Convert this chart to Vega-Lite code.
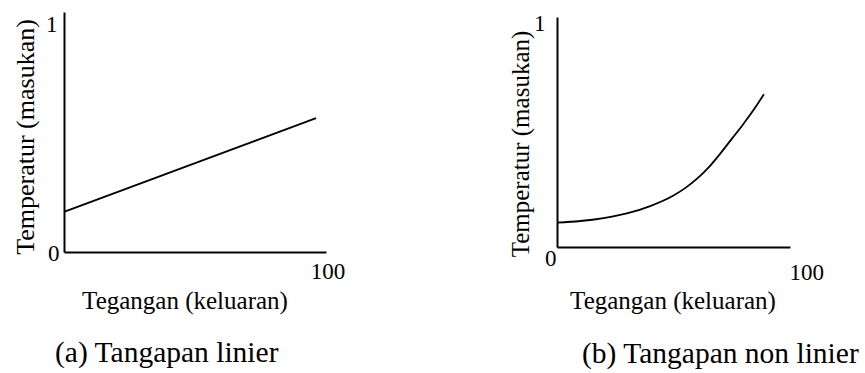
{
  "$schema": "https://vega.github.io/schema/vega-lite/v6.json",
  "background": "white",
  "padding": {"left": 12, "top": 12, "right": 0, "bottom": 0},
  "bounds": "flush",
  "center": true,
  "spacing": 231,
  "config": {
    "view": {"stroke": null},
    "font": "Liberation Serif, Times New Roman, Times, serif",
    "axis": {
      "domainColor": "black",
      "domainWidth": 2,
      "ticks": false,
      "grid": false,
      "labelColor": "black",
      "titleColor": "black",
      "labelFont": "Liberation Serif, Times New Roman, Times, serif",
      "titleFont": "Liberation Serif, Times New Roman, Times, serif",
      "titleFontWeight": "normal",
      "labelFontSize": 23,
      "titleFontSize": 25,
      "labelFlush": false,
      "labelOverlap": false,
      "labelBound": false,
      "format": "d"
    },
    "title": {"font": "Liberation Serif, Times New Roman, Times, serif", "fontSize": 29.5, "fontWeight": "normal", "color": "black"}
  },
  "datasets": {
    "linier": [
      {"tegangan": 0, "temperatur": 0.167},
      {"tegangan": 96.2, "temperatur": 0.558}
    ],
    "nonlinier": [
      {"tegangan": 0, "temperatur": 0.106},
      {"tegangan": 10, "temperatur": 0.113},
      {"tegangan": 20, "temperatur": 0.126},
      {"tegangan": 30, "temperatur": 0.146},
      {"tegangan": 40, "temperatur": 0.178},
      {"tegangan": 50, "temperatur": 0.224},
      {"tegangan": 55, "temperatur": 0.256},
      {"tegangan": 60, "temperatur": 0.296},
      {"tegangan": 65, "temperatur": 0.345},
      {"tegangan": 70, "temperatur": 0.405},
      {"tegangan": 75, "temperatur": 0.47},
      {"tegangan": 80, "temperatur": 0.535},
      {"tegangan": 85, "temperatur": 0.605},
      {"tegangan": 88.8, "temperatur": 0.664}
    ]
  },
  "hconcat": [
    {
      "width": 262,
      "height": 240,
      "data": {"name": "linier"},
      "title": {
        "text": "(a) Tangapan linier",
        "orient": "bottom",
        "anchor": "start",
        "frame": "group",
        "baseline": "alphabetic",
        "dx": -9,
        "offset": 49
      },
      "mark": {"type": "line", "color": "black", "strokeWidth": 1.8},
      "encoding": {
        "x": {
          "field": "tegangan",
          "type": "quantitative",
          "scale": {"domain": [0, 100], "nice": false},
          "axis": {
            "values": [100],
            "format": "d",
            "title": "Tegangan (keluaran)",
            "titleX": 120.5,
            "titleY": 56,
            "titleAlign": "center",
            "titleBaseline": "alphabetic",
            "labelAlign": "center",
            "labelPadding": 8,
            "labelOffset": 1.5
          }
        },
        "y": {
          "field": "temperatur",
          "type": "quantitative",
          "scale": {"domain": [0, 1], "nice": false},
          "axis": {
            "values": [0, 1],
            "format": "d",
            "title": "Temperatur (masukan)",
            "titleFontSize": 26,
            "titleAngle": 270,
            "titleX": -30.7,
            "titleY": 124.5,
            "titleAlign": "center",
            "titleBaseline": "alphabetic",
            "labelBaseline": "middle",
            "labelPadding": {"condition": {"test": "datum.value == 1", "value": 7}, "value": 5},
            "labelOffset": {"condition": {"test": "datum.value == 1", "value": 12}, "value": 1}
          }
        }
      }
    },
    {
      "width": 233,
      "height": 230,
      "data": {"name": "nonlinier"},
      "title": {
        "text": "(b) Tangapan non linier",
        "orient": "bottom",
        "anchor": "start",
        "frame": "group",
        "baseline": "alphabetic",
        "dx": 25,
        "offset": 50
      },
      "mark": {"type": "line", "color": "black", "strokeWidth": 1.8, "interpolate": "monotone"},
      "encoding": {
        "x": {
          "field": "tegangan",
          "type": "quantitative",
          "scale": {"domain": [0, 100], "nice": false},
          "axis": {
            "values": [0, 100],
            "format": "d",
            "title": "Tegangan (keluaran)",
            "titleX": 115.5,
            "titleY": 61,
            "titleAlign": "center",
            "titleBaseline": "alphabetic",
            "labelAlign": {"condition": {"test": "datum.value == 0", "value": "right"}, "value": "left"},
            "labelPadding": {"condition": {"test": "datum.value == 0", "value": 0}, "value": 14},
            "labelOffset": -1
          }
        },
        "y": {
          "field": "temperatur",
          "type": "quantitative",
          "scale": {"domain": [0, 1], "nice": false},
          "axis": {
            "values": [1],
            "format": "d",
            "title": "Temperatur (masukan)",
            "titleFontSize": 25,
            "titleAngle": 270,
            "titleX": -28.7,
            "titleY": 126.5,
            "titleAlign": "center",
            "titleBaseline": "alphabetic",
            "labelBaseline": "middle",
            "labelPadding": 12,
            "labelOffset": 6
          }
        }
      }
    }
  ]
}
